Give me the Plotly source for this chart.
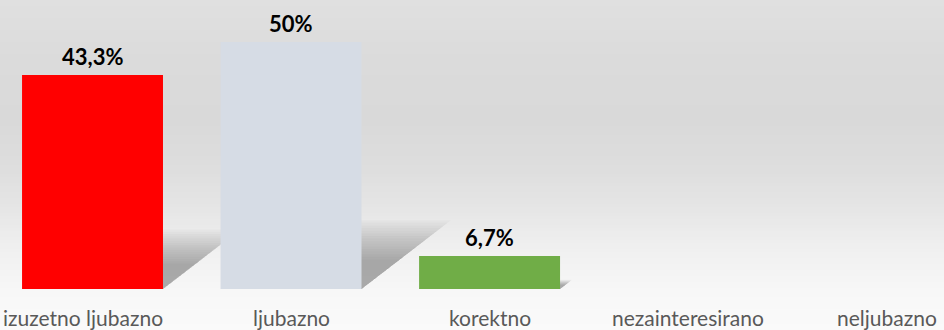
import plotly.graph_objects as go

# Survey answers and their shares (%)
categories = ["izuzetno ljubazno", "ljubazno", "korektno", "nezainteresirano", "neljubazno"]
values = [43.3, 50.0, 6.7, 0.0, 0.0]
bar_colors = ["#FF0000", "#D6DCE5", "#70AD47", "#A5A5A5", "#FFC000"]

W, H = 944, 330
MARGIN_B = 41
X_RANGE = [-0.466, 4.289]
Y_RANGE = [0, 58.5]
BAR_WIDTH = 0.71

plot_h = H - MARGIN_B
px_x = W / (X_RANGE[1] - X_RANGE[0])
px_y = plot_h / (Y_RANGE[1] - Y_RANGE[0])

xs = list(range(len(categories)))


def fmt(v):
    return (f"{v:g}".replace(".", ",") + "%") if v > 0 else ""


labels = [fmt(v) for v in values]

shapes = []

# Vertical grey background gradient (pixel row -> grey level)
stops = [(0, 224), (60, 219), (120, 217), (170, 222), (210, 230),
         (250, 240), (290, 247), (330, 250)]


def grey_at(yp):
    for (y0, g0), (y1, g1) in zip(stops, stops[1:]):
        if y0 <= yp <= y1:
            t = (yp - y0) / (y1 - y0)
            return g0 + (g1 - g0) * t
    return stops[-1][1]


step = 3
for yp in range(0, H, step):
    g = round(grey_at(yp + step / 2))
    top = 1 - yp / plot_h
    bot = 1 - (yp + step + 0.5) / plot_h
    shapes.append(dict(type="rect", xref="paper", yref="paper",
                       x0=0, x1=1, y0=bot, y1=top, layer="below",
                       line=dict(width=0),
                       fillcolor=f"rgb({g},{g},{g})"))

# Soft cast shadows behind each bar, sized from the bar's value;
# stacked translucent layers of growing size give a blurred edge
n_layers = 16
for x, v in zip(xs, values):
    if v <= 0:
        continue
    left = x - BAR_WIDTH / 2
    right = x + BAR_WIDTH / 2
    for k in range(n_layers):
        s = 0.52 + 0.046 * k
        h = 0.23 * v * s
        dx = 1.3 * h * px_y / px_x
        path = (f"M {left},0 L {right},0 L {right + dx},{h} "
                f"L {left + dx},{h} Z")
        shapes.append(dict(type="path", xref="x", yref="y", path=path,
                           layer="below", line=dict(width=0),
                           fillcolor="rgba(90,90,90,0.034)"))

fig = go.Figure(go.Bar(
    x=xs,
    y=values,
    width=BAR_WIDTH,
    marker=dict(color=bar_colors, line=dict(width=0)),
    hoverinfo="skip",
))

annotations = []
# Value labels above the bars
for x, v, t in zip(xs, values, labels):
    if not t:
        continue
    annotations.append(dict(
        x=x, y=v, xref="x", yref="y", text=t, showarrow=False,
        xanchor="center", yanchor="bottom", yshift=3,
        font=dict(family="Lato", size=22, color="#000000", weight="bold"),
    ))

# Category names under the axis; the first one is kept inside the left edge
for i, (x, c) in enumerate(zip(xs, categories)):
    ann = dict(
        y=0, yref="paper", text=c, showarrow=False,
        yanchor="top", yshift=-14,
        font=dict(family="Lato", size=21, color="#595959"),
    )
    if i == 0:
        ann.update(x=0.001, xref="paper", xanchor="left")
    else:
        ann.update(x=x, xref="x", xanchor="center")
    annotations.append(ann)

fig.update_layout(
    width=W,
    height=H,
    margin=dict(l=0, r=0, t=0, b=MARGIN_B, pad=0),
    paper_bgcolor="rgb(250,250,250)",
    plot_bgcolor="rgba(0,0,0,0)",
    shapes=shapes,
    annotations=annotations,
    showlegend=False,
    xaxis=dict(
        range=X_RANGE,
        tickmode="array",
        tickvals=xs,
        ticktext=categories,
        showticklabels=False,
        ticks="",
        showgrid=False,
        zeroline=False,
        showline=False,
    ),
    yaxis=dict(range=Y_RANGE, visible=False, showgrid=False, zeroline=False),
)

fig.write_html("out.html")
